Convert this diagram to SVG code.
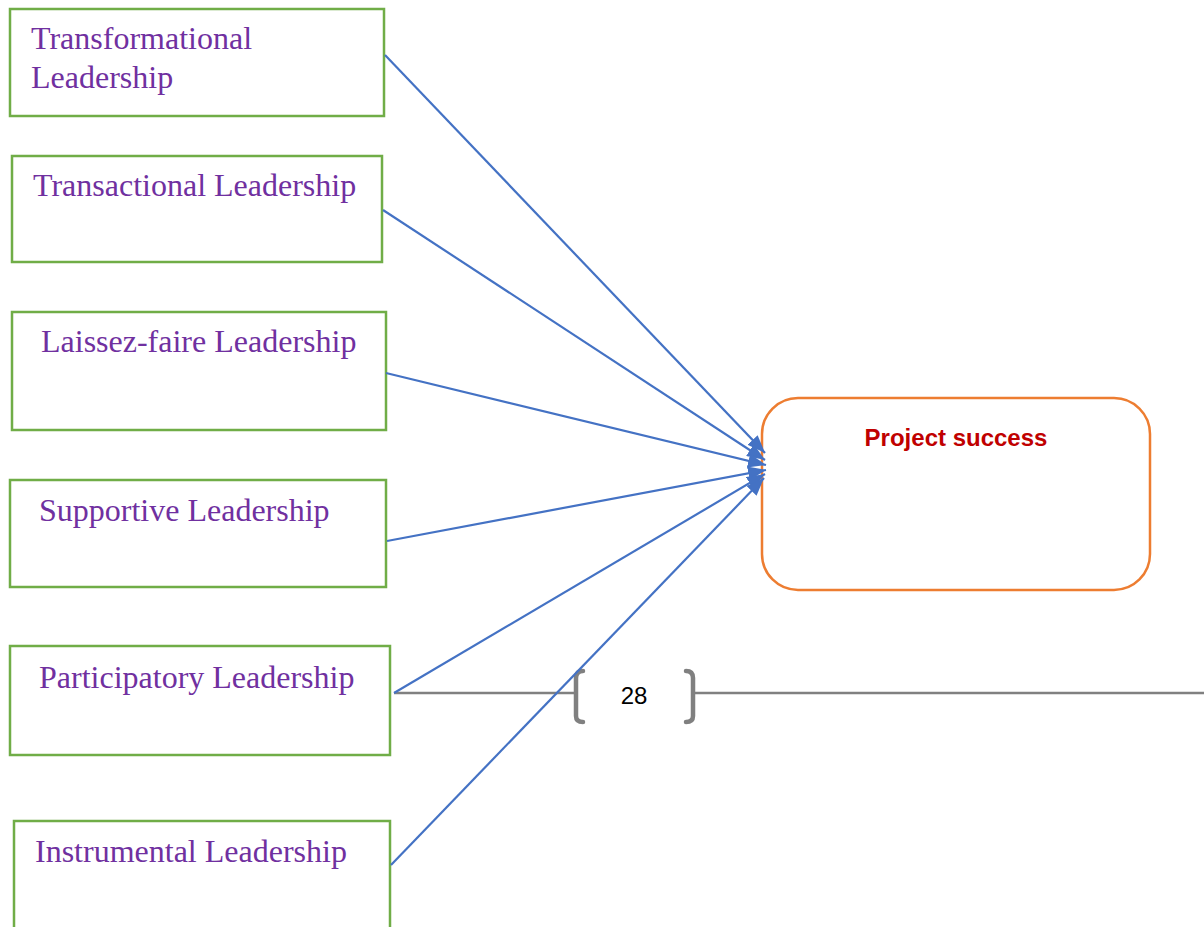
<svg xmlns="http://www.w3.org/2000/svg" width="1204" height="927" viewBox="0 0 1204 927">
  <style>
    .box { fill: #ffffff; stroke: #70AD47; stroke-width: 2.5; }
    .lbl { font-family: "Liberation Serif", "Times New Roman", serif; font-size: 32px; fill: #7030A0; }
    .link { stroke: #4472C4; stroke-width: 2.2; fill: none; marker-end: url(#arrow); }
    .rule { stroke: #808080; stroke-width: 2.5; fill: none; }
    .brace { stroke: #808080; stroke-width: 4.5; fill: none; stroke-linecap: round; stroke-linejoin: round; }
  </style>
  <defs>
    <marker id="arrow" markerUnits="userSpaceOnUse" markerWidth="20" markerHeight="14" refX="18" refY="7" orient="auto">
      <path d="M0,0 L18,7 L0,14 Z" fill="#4472C4"/>
    </marker>
  </defs>
  <rect width="1204" height="927" fill="#ffffff"/>

  <!-- page-number rule with bracketed number -->
  <g id="page-number">
    <line class="rule" x1="394" y1="693" x2="575" y2="693"/>
    <line class="rule" x1="695" y1="693" x2="1204" y2="693"/>
    <path class="brace" d="M583,671 Q576,671 576,678 L576,716 Q576,722 583,722"/>
    <path class="brace" d="M686,671 Q693,671 693,678 L693,716 Q693,722 686,722"/>
    <text x="634" y="704" text-anchor="middle" font-family="Liberation Sans, Arial, sans-serif" font-size="24" fill="#000000">28</text>
  </g>

  <g id="transformational">
    <rect class="box" x="10" y="9" width="374" height="107"/>
    <text class="lbl" x="31" y="49">Transformational</text>
    <text class="lbl" x="31" y="88">Leadership</text>
  </g>
  <g id="transactional">
    <rect class="box" x="12" y="156" width="370" height="106"/>
    <text class="lbl" x="33" y="196">Transactional Leadership</text>
  </g>
  <g id="laissez-faire">
    <rect class="box" x="12" y="312" width="374" height="118"/>
    <text class="lbl" x="41" y="352">Laissez-faire Leadership</text>
  </g>
  <g id="supportive">
    <rect class="box" x="10" y="480" width="376" height="107"/>
    <text class="lbl" x="39" y="521">Supportive Leadership</text>
  </g>
  <g id="participatory">
    <rect class="box" x="10" y="646" width="380" height="109"/>
    <text class="lbl" x="39" y="688">Participatory Leadership</text>
  </g>
  <g id="instrumental">
    <rect class="box" x="14" y="821" width="376" height="120"/>
    <text class="lbl" x="35" y="862">Instrumental Leadership</text>
  </g>

  <g id="project-success">
    <rect x="762" y="398" width="388" height="192" rx="36" ry="36" fill="#ffffff" stroke="#ED7D31" stroke-width="2.5"/>
    <text x="956" y="446" text-anchor="middle" font-family="Liberation Sans, Arial, sans-serif" font-size="24" font-weight="bold" fill="#C00000">Project success</text>
  </g>

  <g id="connectors">
    <line class="link" x1="385" y1="55" x2="765" y2="453"/>
    <line class="link" x1="383" y1="210" x2="765" y2="460"/>
    <line class="link" x1="386" y1="373" x2="766" y2="465"/>
    <line class="link" x1="387" y1="541" x2="766" y2="470"/>
    <line class="link" x1="394" y1="693" x2="765" y2="474"/>
    <line class="link" x1="391" y1="865" x2="764" y2="478"/>
  </g>
</svg>
